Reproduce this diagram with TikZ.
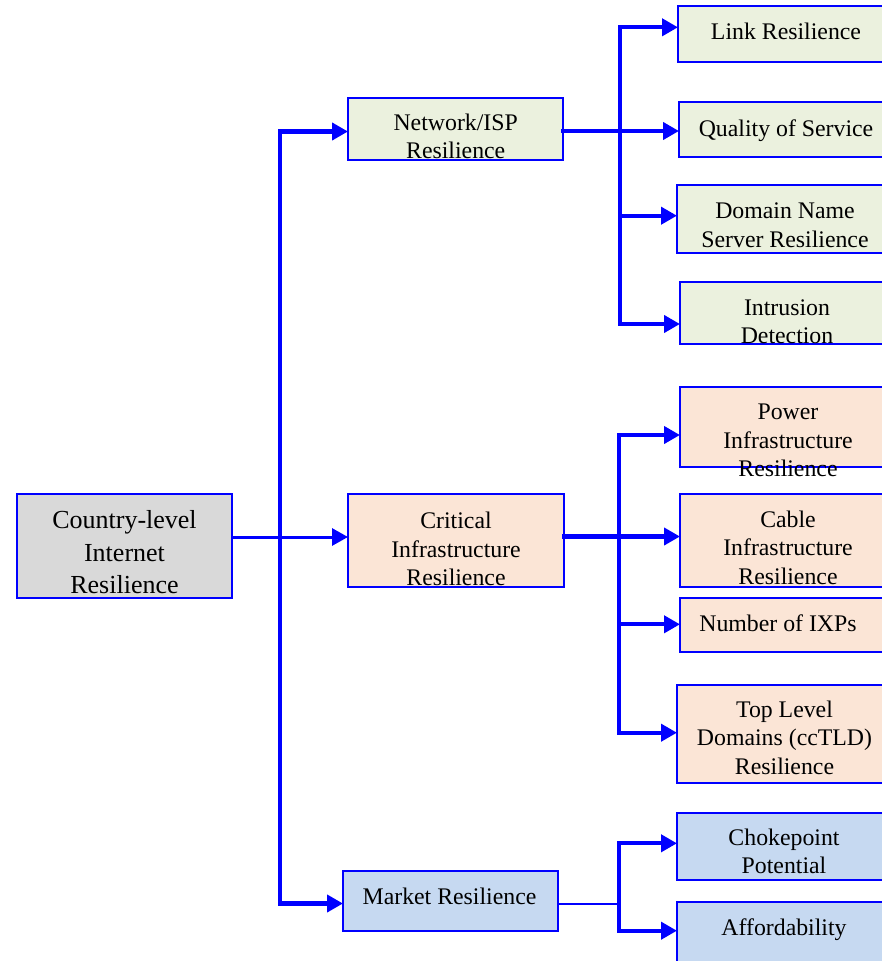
\documentclass[tikz,border=0pt]{standalone}
\usepackage{fontspec}
\setmainfont{Liberation Serif}
\usetikzlibrary{arrows.meta}
\definecolor{linkblue}{RGB}{0,0,255}
\definecolor{greenfill}{HTML}{EBF1DE}
\definecolor{peachfill}{HTML}{FBE5D6}
\definecolor{bluefill}{HTML}{C6D9F1}
\definecolor{grayfill}{HTML}{D9D9D9}
\newcommand\placebox[6]{%
  \node[boxshape, fill=#2, minimum width={#5-#3}, minimum height={#6-#4}]
    (#1) at ({(#3+#5)/2},{(#4+#6)/2}) {};}
\begin{document}
\begin{tikzpicture}[x=1pt,y=-1pt,
  boxshape/.style={draw=linkblue, line width=1.8pt, inner sep=0pt, outer sep=0pt, rectangle},
  lbl/.style={align=center, inner sep=0pt, anchor=base, font=\fontsize{23.8}{28.5}\selectfont},
  rootlbl/.style={align=center, inner sep=0pt, anchor=base, font=\fontsize{26}{32.5}\selectfont},
  heavy/.style={draw=linkblue, line width=4.3pt, line cap=rect},
  medium/.style={draw=linkblue, line width=3pt},
  light/.style={draw=linkblue, line width=2pt},
  arr/.style={-{Triangle[length=16pt,width=17pt]}}
]
\useasboundingbox (0,0) rectangle (882,961);

% boxes
\placebox{root}{grayfill}{17}{494}{232}{598}
\placebox{net}{greenfill}{348}{98}{563}{160}
\placebox{crit}{peachfill}{348}{494}{564}{587}
\placebox{mkt}{bluefill}{343}{871}{558}{931}
\placebox{link}{greenfill}{678}{6}{894}{62}
\placebox{qos}{greenfill}{679}{102}{894}{157}
\placebox{dns}{greenfill}{677}{185}{894}{253}
\placebox{ids}{greenfill}{680}{282}{894}{344}
\placebox{pow}{peachfill}{680}{387}{894}{467}
\placebox{cab}{peachfill}{680}{494}{894}{587}
\placebox{ixp}{peachfill}{680}{598}{894}{652}
\placebox{tld}{peachfill}{677}{685}{894}{783}
\placebox{chk}{bluefill}{677}{813}{894}{880}
\placebox{aff}{bluefill}{677}{902}{894}{980}

% labels (anchor = baseline of the last line)
\node[rootlbl] (rootT) at (124.5,593.5) {Country-level\\Internet\\Resilience};
\node[lbl] (netT) at (455.7,158.5) {Network/ISP\\Resilience};
\node[lbl] (critT) at (456,585.5) {Critical\\Infrastructure\\Resilience};
\node[lbl] (mktT) at (449.5,904) {Market Resilience};
\node[lbl] (linkT) at (786,39.3) {Link Resilience};
\node[lbl] (qosT) at (786,136) {Quality of Service};
\node[lbl] (dnsT) at (785,247.3) {Domain Name\\Server Resilience};
\node[lbl] (idsT) at (787,343.5) {Intrusion\\Detection};
\node[lbl] (powT) at (788,476.7) {Power\\Infrastructure\\Resilience};
\node[lbl] (cabT) at (788,584) {Cable\\Infrastructure\\Resilience};
\node[lbl] (ixpT) at (778,631) {Number of IXPs};
\node[lbl] (tldT) at (784.5,774) {Top Level\\Domains (ccTLD)\\Resilience};
\node[lbl] (chkT) at (784,873.5) {Chokepoint\\Potential};
\node[lbl] (affT) at (784,935) {Affordability};

% trunk from root
\coordinate (tTop) at (280,131.5);
\coordinate (tMid) at (280,537);
\coordinate (tBot) at (280,903.5);
\draw[heavy] (tTop) -- (tBot);
\draw[heavy,arr] (tTop) -- (tTop -| net.west);
\draw[heavy,arr] (tBot) -- (tBot -| mkt.west);
\draw[medium,arr] (root.east |- tMid) -- (tMid -| crit.west);

% network group
\coordinate (nA) at (620,27.3);
\coordinate (nQ) at (620,131);
\coordinate (nB) at (620,215.7);
\coordinate (nC) at (620,324);
\draw[heavy] (nA) -- (nC);
\draw[heavy,arr] (net.east |- nQ) -- (nQ -| qos.west);
\draw[heavy,arr] (nA) -- (nA -| link.west);
\draw[heavy,arr] (nB) -- (nB -| dns.west);
\draw[heavy,arr] (nC) -- (nC -| ids.west);

% critical group
\coordinate (cA) at (619,435);
\coordinate (cQ) at (619,536.5);
\coordinate (cB) at (619,624.3);
\coordinate (cC) at (619,732.7);
\draw[heavy] (cA) -- (cC);
\draw[heavy,arr] (crit.east |- cQ) -- (cQ -| cab.west);
\draw[heavy,arr] (cA) -- (cA -| pow.west);
\draw[heavy,arr] (cB) -- (cB -| ixp.west);
\draw[heavy,arr] (cC) -- (cC -| tld.west);

% market group
\coordinate (mA) at (619,843.3);
\coordinate (mQ) at (619,903.5);
\coordinate (mC) at (619,930.7);
\draw[light] (mkt.east |- mQ) -- (mQ);
\draw[heavy] (mA) -- (mC);
\draw[heavy,arr] (mA) -- (mA -| chk.west);
\draw[heavy,arr] (mC) -- (mC -| aff.west);
\end{tikzpicture}
\end{document}
